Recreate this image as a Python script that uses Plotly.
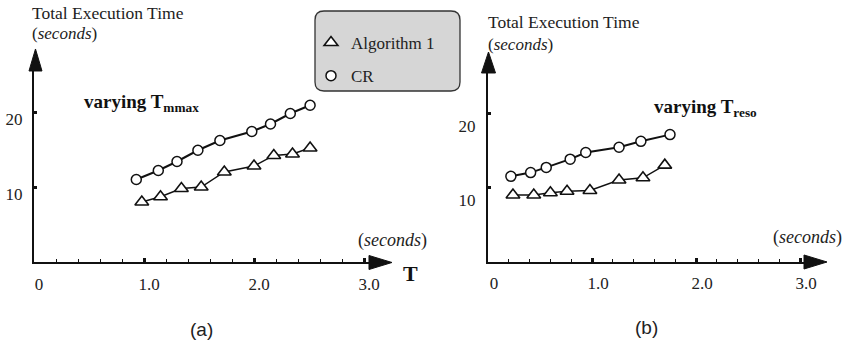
import plotly.graph_objects as go

W, H = 844, 342

# ---- data ----
a_cr_x = [0.93, 1.13, 1.30, 1.49, 1.69, 1.98, 2.15, 2.33, 2.51]
a_cr_y = [11.0, 12.2, 13.4, 14.9, 16.2, 17.4, 18.4, 19.8, 20.9]
a_alg_x = [0.98, 1.15, 1.34, 1.52, 1.73, 2.00, 2.18, 2.35, 2.51]
a_alg_y = [8.0, 8.7, 9.8, 10.0, 12.0, 12.8, 14.2, 14.4, 15.2]

b_cr_x = [0.22, 0.41, 0.56, 0.79, 0.94, 1.26, 1.47, 1.75]
b_cr_y = [11.5, 12.0, 12.7, 13.8, 14.7, 15.4, 16.2, 17.1]
b_alg_x = [0.24, 0.44, 0.60, 0.76, 0.98, 1.26, 1.49, 1.70]
b_alg_y = [9.0, 9.0, 9.3, 9.5, 9.6, 11.0, 11.3, 13.0]

series_names = ["Algorithm 1", "CR"]
x_tick_vals = [0, 1, 2, 3]
x_tick_text = ["0", "1.0", "2.0", "3.0"]
y_tick_vals = [10, 20]
y_tick_text = ["10", "20"]
minor_x_step = 0.2

SERIF = "Times New Roman, Liberation Serif, DejaVu Serif, serif"
SANS = "Arial, Liberation Sans, sans-serif"


def px(x):
    return x / W


def py(y):
    return 1 - y / H


fig = go.Figure()

panels = [
    dict(xa="x", ya="y", cr=(a_cr_x, a_cr_y), alg=(a_alg_x, a_alg_y), legend=True),
    dict(xa="x2", ya="y2", cr=(b_cr_x, b_cr_y), alg=(b_alg_x, b_alg_y), legend=False),
]

for p in panels:
    fig.add_trace(go.Scatter(x=p["alg"][0], y=p["alg"][1], mode="lines",
                             line=dict(color="#111", width=1.4),
                             xaxis=p["xa"], yaxis=p["ya"], showlegend=False, hoverinfo="skip"))
    fig.add_trace(go.Scatter(x=p["cr"][0], y=p["cr"][1], mode="lines",
                             line=dict(color="#111", width=2.0),
                             xaxis=p["xa"], yaxis=p["ya"], showlegend=False, hoverinfo="skip"))
    fig.add_trace(go.Scatter(x=p["alg"][0], y=p["alg"][1], mode="markers", name=series_names[0],
                             marker=dict(symbol="triangle-up", size=12, color="white",
                                         line=dict(color="#111", width=1.6)),
                             xaxis=p["xa"], yaxis=p["ya"], showlegend=p["legend"],
                             legendgroup="g1"))
    fig.add_trace(go.Scatter(x=p["cr"][0], y=p["cr"][1], mode="markers", name=series_names[1],
                             marker=dict(symbol="circle", size=10, color="white",
                                         line=dict(color="#111", width=1.5)),
                             xaxis=p["xa"], yaxis=p["ya"], showlegend=p["legend"],
                             legendgroup="g2"))

axis_common = dict(showgrid=False, zeroline=False, showline=True, linecolor="#111",
                   linewidth=2, ticks="inside", tickcolor="#111", automargin=False,
                   tickfont=dict(family=SERIF, size=17, color="#222"), fixedrange=True)

fig.update_layout(
    xaxis=dict(domain=[px(34), px(372)], range=[0, (372 - 34) / 110], anchor="y",
               tickvals=x_tick_vals, ticktext=x_tick_text, ticklen=4, tickwidth=3,
               ticklabelshift=5, ticklabelstandoff=6,
               minor=dict(dtick=minor_x_step, tick0=0, ticks="inside", ticklen=3,
                          tickwidth=1.2, tickcolor="#111"),
               **axis_common),
    yaxis=dict(domain=[py(262), py(70)], range=[0, (262 - 70) / 7.5], anchor="x",
               tickvals=y_tick_vals, ticktext=y_tick_text, ticklen=3, tickwidth=3,
               ticklabelshift=7, ticklabelstandoff=6, **axis_common),
    xaxis2=dict(domain=[px(488), px(806)], range=[0, (806 - 488) / 104], anchor="y2",
                tickvals=x_tick_vals, ticktext=x_tick_text, ticklen=4, tickwidth=3,
                ticklabelshift=6, ticklabelstandoff=5,
                minor=dict(dtick=minor_x_step, tick0=0, ticks="inside", ticklen=3,
                           tickwidth=1.2, tickcolor="#111"),
                **axis_common),
    yaxis2=dict(domain=[py(262), py(72)], range=[0, (262 - 72) / 7.45], anchor="x2",
                tickvals=y_tick_vals, ticktext=y_tick_text, ticklen=3, tickwidth=3,
                ticklabelshift=13, ticklabelstandoff=7, **axis_common),
)

shapes = []


def tri(points):
    d = "M " + " L ".join(f"{px(x):.5f},{py(y):.5f}" for x, y in points) + " Z"
    return dict(type="path", path=d, xref="paper", yref="paper",
                fillcolor="#111", line=dict(color="#111", width=1), layer="above")


shapes.append(tri([(369, 255.5), (392, 262.5), (369, 269.5)]))   # (a) x
shapes.append(tri([(29, 71), (35.5, 49), (42, 71)]))             # (a) y
shapes.append(tri([(804, 255), (827, 262), (804, 269)]))         # (b) x
shapes.append(tri([(481.5, 73), (488.5, 52), (495.5, 73)]))      # (b) y

x0, y0, x1, y1, r = 315, 11, 460, 91, 9
path = (f"M {px(x0 + r)},{py(y0)} L {px(x1 - r)},{py(y0)} Q {px(x1)},{py(y0)} {px(x1)},{py(y0 + r)} "
        f"L {px(x1)},{py(y1 - r)} Q {px(x1)},{py(y1)} {px(x1 - r)},{py(y1)} "
        f"L {px(x0 + r)},{py(y1)} Q {px(x0)},{py(y1)} {px(x0)},{py(y1 - r)} "
        f"L {px(x0)},{py(y0 + r)} Q {px(x0)},{py(y0)} {px(x0 + r)},{py(y0)} Z")
shapes.append(dict(type="path", path=path, xref="paper", yref="paper",
                   fillcolor="#d6d6d6", line=dict(color="#333", width=1.3), layer="below"))

annotations = []


def text(x, y, s, size=17, family=SERIF, xanchor="left", yanchor="middle", color="#222"):
    annotations.append(dict(x=px(x), y=py(y), xref="paper", yref="paper", text=s,
                            showarrow=False, xanchor=xanchor, yanchor=yanchor,
                            font=dict(family=family, size=size, color=color)))


text(30, 12.5, "Total Execution Time", size=17.5)
text(30, 34, "(<i>seconds</i>)", size=17)
text(486, 22.5, "Total Execution Time", size=17.5)
text(486, 44, "(<i>seconds</i>)", size=17)
text(82, 103, "<b>varying T<sub>mmax</sub></b>", size=19, color="#111")
text(652, 108, "<b>varying T<sub>reso</sub></b>", size=19, color="#111")
text(429, 240, "(<i>seconds</i>)", xanchor="right", size=18)
text(844, 237, "(<i>seconds</i>)", xanchor="right", size=18)
text(401, 273, "<b>T</b>", size=22, color="#111")
text(201, 329, "(a)", size=19, family=SANS, xanchor="center")
text(646, 327, "(b)", size=19, family=SANS, xanchor="center")

fig.update_layout(
    width=W, height=H, margin=dict(l=0, r=0, t=0, b=0),
    paper_bgcolor="white", plot_bgcolor="rgba(0,0,0,0)",
    font=dict(family=SERIF, size=17, color="#222"),
    shapes=shapes, annotations=annotations,
    showlegend=True,
    legend=dict(x=px(311), y=py(25), xanchor="left", yanchor="top",
                bgcolor="rgba(0,0,0,0)", borderwidth=0,
                font=dict(family=SERIF, size=17, color="#222"),
                tracegroupgap=8, itemwidth=30),
)

fig.write_html("out.html", config={"displayModeBar": False},
               post_script="document.body.style.margin='0';document.body.style.overflow='hidden';")
